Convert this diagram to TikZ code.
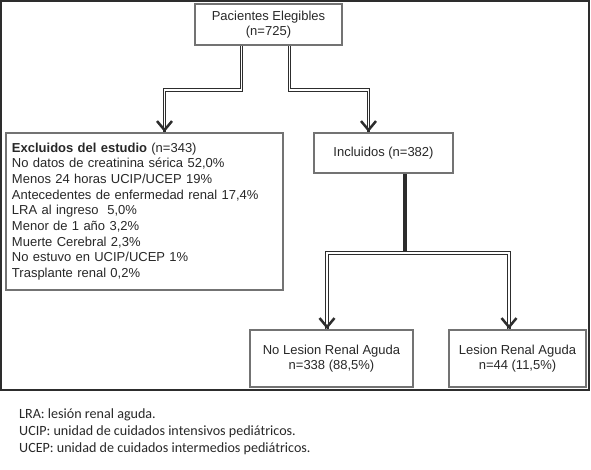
\documentclass[tikz,border=0pt]{standalone}
\usepackage{fontspec}
\setmainfont{Liberation Sans}
\newfontfamily\notefont{Carlito}
\usepackage{tikz}
\usetikzlibrary{arrows.meta, positioning}

\definecolor{borde}{RGB}{115,115,115}
\definecolor{linea}{RGB}{45,45,45}
\definecolor{texto}{RGB}{40,40,40}

\begin{document}
\begin{tikzpicture}[x=1pt, y=-1pt,
  caja/.style={draw=borde, line width=2pt, fill=white, text=texto,
    font=\fontsize{13}{15.7}\selectfont, align=center, inner sep=0pt},
  link/.style={draw=linea, line width=1.1pt, double=white, double distance=1.2pt},
  tip/.style={draw=linea, line width=1pt,
    -{Straight Barb[length=9pt, width=15pt, line width=2.5pt]}},
  trunk/.style={draw=linea, line width=4pt}]

  \useasboundingbox (0,0) rectangle (591,469);
  \draw[linea, line width=2pt] (1,1) rectangle (589,390);

  % cajas
  \node[caja, minimum width=147pt, minimum height=41pt] (pac) at (268.5,24.5)
    {Pacientes Elegibles\\(n=725)};
  \node[caja, minimum height=157pt, text width=265pt, inner xsep=6pt, align=left]
    (excl) at (144.5,211.5)
    {\textbf{Excluidos del estudio} (n=343)\\
     No datos de creatinina sérica 52,0\%\\
     Menos 24 horas UCIP/UCEP 19\%\\
     Antecedentes de enfermedad renal 17,4\%\\
     LRA al ingreso\ \ 5,0\%\\
     Menor de 1 año 3,2\%\\
     Muerte Cerebral 2,3\%\\
     No estuvo en UCIP/UCEP 1\%\\
     Trasplante renal 0,2\%};
  \node[caja, minimum width=139pt, minimum height=40pt] (incl) at (383.5,153)
    {Incluidos (n=382)};
  \node[caja, minimum width=163pt, minimum height=57pt] (nolra) at (331.5,358.5)
    {No Lesion Renal Aguda\\n=338 (88,5\%)};
  \node[caja, minimum width=137pt, minimum height=57pt] (lra) at (517.5,358.5)
    {Lesion Renal Aguda\\n=44 (11,5\%)};

  % conectores
  \draw[link] ([xshift=-27pt]pac.south) -- ++(0,44) -| ([xshift=20pt]excl.north) coordinate (a1);
  \draw[link] ([xshift=21pt]pac.south) -- ++(0,44) -| ([xshift=-15pt]incl.north) coordinate (a2);
  \draw[trunk] ([xshift=21.5pt]incl.south) -- ++(0,79) coordinate (split);
  \draw[link] (split) -| ([xshift=-4.5pt]nolra.north) coordinate (a3);
  \draw[link] (split) -| ([xshift=-8.5pt]lra.north) coordinate (a4);
  \foreach \a in {a1,a2,a3,a4}
    \draw[tip] ([yshift=0.5pt]\a) -- (\a);

  % notas
  \node[anchor=north west, inner sep=0pt, align=left, text=texto,
    font=\notefont\fontsize{14.1}{17.5}\selectfont] (notas) at (19,408)
    {LRA: lesión renal aguda.\\
     UCIP: unidad de cuidados intensivos pediátricos.\\
     UCEP: unidad de cuidados intermedios pediátricos.};
\end{tikzpicture}
\end{document}
